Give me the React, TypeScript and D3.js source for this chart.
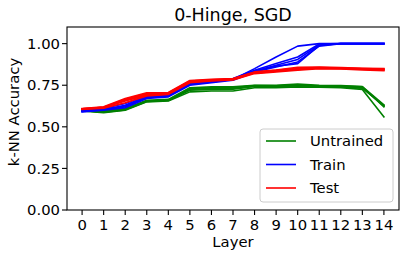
import React from "react";
import * as d3 from "d3";

const layers = d3.range(0, 15);
const yTicks = [0, 0.25, 0.5, 0.75, 1.0];

const untrainedRuns: number[][] = [
  [0.595, 0.585, 0.600, 0.650, 0.655, 0.710, 0.715, 0.715, 0.735, 0.735, 0.740, 0.738, 0.735, 0.725, 0.560],
  [0.600, 0.590, 0.605, 0.655, 0.660, 0.725, 0.730, 0.730, 0.745, 0.743, 0.745, 0.745, 0.743, 0.735, 0.625],
  [0.600, 0.595, 0.610, 0.660, 0.665, 0.735, 0.740, 0.740, 0.750, 0.750, 0.757, 0.750, 0.748, 0.742, 0.632],
  [0.597, 0.590, 0.605, 0.655, 0.660, 0.730, 0.735, 0.735, 0.748, 0.746, 0.752, 0.745, 0.745, 0.740, 0.620],
  [0.598, 0.588, 0.602, 0.652, 0.658, 0.720, 0.725, 0.726, 0.742, 0.740, 0.748, 0.742, 0.740, 0.732, 0.628],
];

const trainRuns: number[][] = [
  [0.595, 0.605, 0.625, 0.680, 0.690, 0.760, 0.770, 0.785, 0.850, 0.920, 0.985, 1.000, 1.000, 1.000, 1.000],
  [0.590, 0.600, 0.615, 0.670, 0.680, 0.750, 0.765, 0.780, 0.830, 0.860, 0.890, 0.985, 1.000, 1.000, 1.000],
  [0.595, 0.605, 0.620, 0.675, 0.685, 0.755, 0.770, 0.785, 0.835, 0.870, 0.905, 0.992, 1.000, 1.000, 1.000],
  [0.600, 0.610, 0.640, 0.690, 0.695, 0.765, 0.775, 0.790, 0.840, 0.880, 0.920, 0.998, 1.000, 1.000, 1.000],
  [0.592, 0.603, 0.630, 0.685, 0.688, 0.758, 0.772, 0.787, 0.832, 0.865, 0.880, 0.990, 1.000, 1.000, 1.000],
];

const testRuns: number[][] = [
  [0.605, 0.612, 0.645, 0.685, 0.695, 0.765, 0.775, 0.782, 0.820, 0.830, 0.840, 0.850, 0.848, 0.842, 0.838],
  [0.608, 0.618, 0.660, 0.695, 0.700, 0.772, 0.780, 0.786, 0.826, 0.836, 0.848, 0.855, 0.852, 0.848, 0.845],
  [0.610, 0.620, 0.670, 0.705, 0.706, 0.778, 0.786, 0.790, 0.830, 0.842, 0.858, 0.860, 0.856, 0.852, 0.850],
  [0.606, 0.615, 0.655, 0.690, 0.697, 0.768, 0.778, 0.784, 0.823, 0.834, 0.845, 0.852, 0.850, 0.846, 0.842],
  [0.609, 0.617, 0.665, 0.700, 0.703, 0.775, 0.783, 0.788, 0.828, 0.840, 0.852, 0.857, 0.854, 0.850, 0.848],
];

const series = [
  { name: "Untrained", color: "#008000", runs: untrainedRuns },
  { name: "Train", color: "#0000ff", runs: trainRuns },
  { name: "Test", color: "#ff0000", runs: testRuns },
];

const W = 407;
const H = 257;
const margin = { top: 27, right: 8, bottom: 47, left: 67 };
const font = "DejaVu Sans, sans-serif";
const fs = 14.8;

export default function App() {
  const x = d3.scaleLinear().domain([-0.7, 14.7]).range([margin.left, W - margin.right]);
  const y = d3.scaleLinear().domain([0, 1.1]).range([H - margin.bottom, margin.top]);
  const line = d3
    .line<number>()
    .x((_, i) => x(layers[i]))
    .y((d) => y(d));

  const x0 = margin.left;
  const x1 = W - margin.right;
  const y0 = H - margin.bottom;
  const y1 = margin.top;

  const lg = { x: 260, y: 129, w: 133, h: 73 };

  return (
    <svg
      width={W}
      height={H}
      style={{ position: "absolute", left: 0, top: 0, background: "#fff" }}
      fontFamily={font}
    >
      <rect x={0} y={0} width={W} height={H} fill="#fff" />
      <clipPath id="plot">
        <rect x={x0} y={y1} width={x1 - x0} height={y0 - y1} />
      </clipPath>
      <g clipPath="url(#plot)">
        {series.map((s) =>
          s.runs.map((r, k) => (
            <path
              key={s.name + k}
              d={line(r) || ""}
              fill="none"
              stroke={s.color}
              strokeWidth={1.6}
              strokeLinejoin="round"
              strokeLinecap="square"
            />
          ))
        )}
      </g>
      <rect x={x0} y={y1} width={x1 - x0} height={y0 - y1} fill="none" stroke="#000" strokeWidth={1.1} />
      {yTicks.map((t) => (
        <g key={t}>
          <line x1={x0} x2={x0 - 5} y1={y(t)} y2={y(t)} stroke="#000" strokeWidth={1.1} />
          <text x={x0 - 7} y={y(t)} dy="0.35em" textAnchor="end" fontSize={fs}>
            {t.toFixed(2)}
          </text>
        </g>
      ))}
      {layers.map((t) => (
        <g key={t}>
          <line x1={x(t)} x2={x(t)} y1={y0} y2={y0 + 5} stroke="#000" strokeWidth={1.1} />
          <text x={x(t)} y={y0 + 20} textAnchor="middle" fontSize={fs}>
            {t}
          </text>
        </g>
      ))}
      <text x={(x0 + x1) / 2} y={H - 10} textAnchor="middle" fontSize={fs}>
        Layer
      </text>
      <text
        transform={`translate(19,112) rotate(-90)`}
        textAnchor="middle"
        fontSize={fs}
      >
        k-NN Accuracy
      </text>
      <text x={(x0 + x1) / 2} y={y1 - 6} textAnchor="middle" fontSize={17.5}>
        0-Hinge, SGD
      </text>
      <g>
        <rect x={lg.x} y={lg.y} width={lg.w} height={lg.h} rx={3} fill="#fff" fillOpacity={0.8} stroke="#cccccc" strokeWidth={1} />
        {series.map((s, i) => {
          const cy = lg.y + 12 + i * 23.5;
          return (
            <g key={s.name}>
              <line x1={lg.x + 6} x2={lg.x + 36} y1={cy} y2={cy} stroke={s.color} strokeWidth={1.6} />
              <text x={lg.x + 50} y={cy} dy="0.35em" fontSize={fs}>
                {s.name}
              </text>
            </g>
          );
        })}
      </g>
    </svg>
  );
}
